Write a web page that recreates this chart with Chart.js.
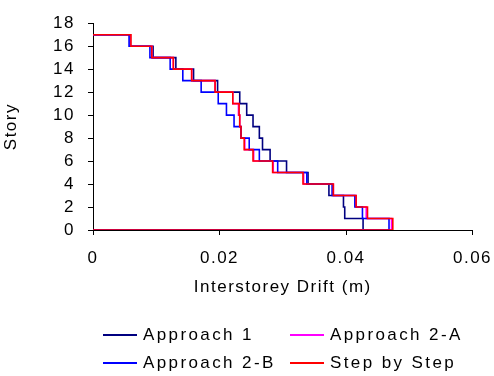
<!DOCTYPE html>
<html>
<head>
<meta charset="utf-8">
<script src="https://cdn.jsdelivr.net/npm/chart.js@4.4.1/dist/chart.umd.min.js"></script>
<style>
  body { margin: 0; background: #fff; }
  #wrap { position: relative; width: 494px; height: 376px; }
  #legend { position: absolute; left: 0; top: 0; font-family: "Liberation Sans", Arial, sans-serif; font-size: 17px; letter-spacing: 2.4px; color: #000; }
  .item { position: absolute; display: flex; align-items: center; height: 20px; white-space: nowrap; }
  .item .swatch { display: inline-block; width: 34px; height: 2px; margin-right: 6px; }
</style>
</head>
<body>
<div id="wrap">
  <canvas id="chart" width="494" height="376"></canvas>
  <div id="legend"></div>
</div>
<script>
// drift per story, stories 1..17
const stories = [1, 2, 3, 4, 5, 6, 7, 8, 9, 10, 11, 12, 13, 14, 15, 16, 17];
const approach1 = [0.0427, 0.0398, 0.0396, 0.0373, 0.0340, 0.0306, 0.0280, 0.0268, 0.0263, 0.0253, 0.0243, 0.0232, 0.0197, 0.0159, 0.0131, 0.0095, 0.0059];
const approach2A = [0.0472, 0.0432, 0.0416, 0.0380, 0.0333, 0.0285, 0.0254, 0.0240, 0.0234, 0.0232, 0.0230, 0.0221, 0.0193, 0.0156, 0.0127, 0.0093, 0.0059];
const approach2B = [0.0468, 0.0426, 0.0414, 0.0378, 0.0338, 0.0292, 0.0263, 0.0247, 0.0234, 0.0223, 0.0211, 0.0198, 0.0171, 0.0142, 0.0122, 0.0090, 0.0057];
const stepByStep = [0.0474, 0.0434, 0.0416, 0.0380, 0.0332, 0.0284, 0.0253, 0.0239, 0.0234, 0.0232, 0.0231, 0.0221, 0.0193, 0.0156, 0.0127, 0.0093, 0.0060];
const xTicks = [0, 0.02, 0.04, 0.06];
const yTicks = [0, 2, 4, 6, 8, 10, 12, 14, 16, 18];

const FONT = '"Liberation Sans", Arial, sans-serif';

function profile(drift) {
  const top = stories[stories.length - 1];
  return [{ x: 0, y: 0 }, ...drift.map((d, i) => ({ x: d, y: stories[i] })), { x: 0, y: top }];
}

const series = [
  { label: 'Approach 1', data: approach1, color: '#000080', order: 3 },
  { label: 'Approach 2-A', data: approach2A, color: '#FF00FF', order: 2 },
  { label: 'Approach 2-B', data: approach2B, color: '#0000FF', order: 1 },
  { label: 'Step by Step', data: stepByStep, color: '#FF0000', order: 0 },
];

const spacing = {
  id: 'spacing',
  beforeLayout(chart) { chart.ctx.letterSpacing = '1.5px'; },
  beforeDraw(chart) { chart.ctx.letterSpacing = '1.5px'; },
};

const axisFont = { family: FONT, size: 17 };

new Chart(document.getElementById('chart'), {
  type: 'scatter',
  data: {
    datasets: series.map(s => ({
      label: s.label,
      data: profile(s.data),
      showLine: true,
      stepped: 'before',
      borderColor: s.color,
      backgroundColor: s.color,
      borderWidth: 1.6,
      pointRadius: 0,
      order: s.order,
    })),
  },
  options: {
    responsive: false,
    animation: false,
    layout: { padding: { top: 19, right: 21.5, bottom: 76, left: 0 } },
    plugins: { legend: { display: false }, tooltip: { enabled: false } },
    scales: {
      x: {
        type: 'linear', min: 0, max: 0.06,
        afterFit: s => { s.height = 70; s.paddingLeft = 0; s.paddingRight = 0; },
        afterBuildTicks: s => { s.ticks = xTicks.map(v => ({ value: v })); },
        ticks: { color: '#000', font: axisFont, padding: 13, autoSkip: false, maxRotation: 0, callback: v => v === 0 ? '0' : v.toFixed(2) },
        grid: { drawOnChartArea: false, tickLength: 5, color: '#000' },
        border: { color: '#000', width: 1 },
        title: { display: true, text: 'Interstorey Drift (m)', color: '#000', font: axisFont, padding: { top: 0, bottom: 2 } },
      },
      y: {
        min: 0, max: 18,
        afterFit: s => { s.width = 93; },
        afterBuildTicks: s => { s.ticks = yTicks.map(v => ({ value: v })); },
        ticks: { color: '#000', font: axisFont, padding: 13, autoSkip: false },
        grid: { drawOnChartArea: false, tickLength: 5, color: '#000' },
        border: { color: '#000', width: 1 },
        title: { display: true, text: 'Story', color: '#000', font: axisFont, padding: { top: 1, bottom: 0 } },
      },
    },
  },
  plugins: [spacing],
});

// two-column legend below the plot
const legend = document.getElementById('legend');
const slots = [[103, 335], [290, 335], [103, 363], [290, 363]];
series.forEach((s, i) => {
  const el = document.createElement('div');
  el.className = 'item';
  el.style.left = slots[i][0] + 'px';
  el.style.top = (slots[i][1] - 10) + 'px';
  el.innerHTML = '<span class="swatch" style="background:' + s.color + '"></span>' + s.label;
  legend.appendChild(el);
});
</script>
</body>
</html>
